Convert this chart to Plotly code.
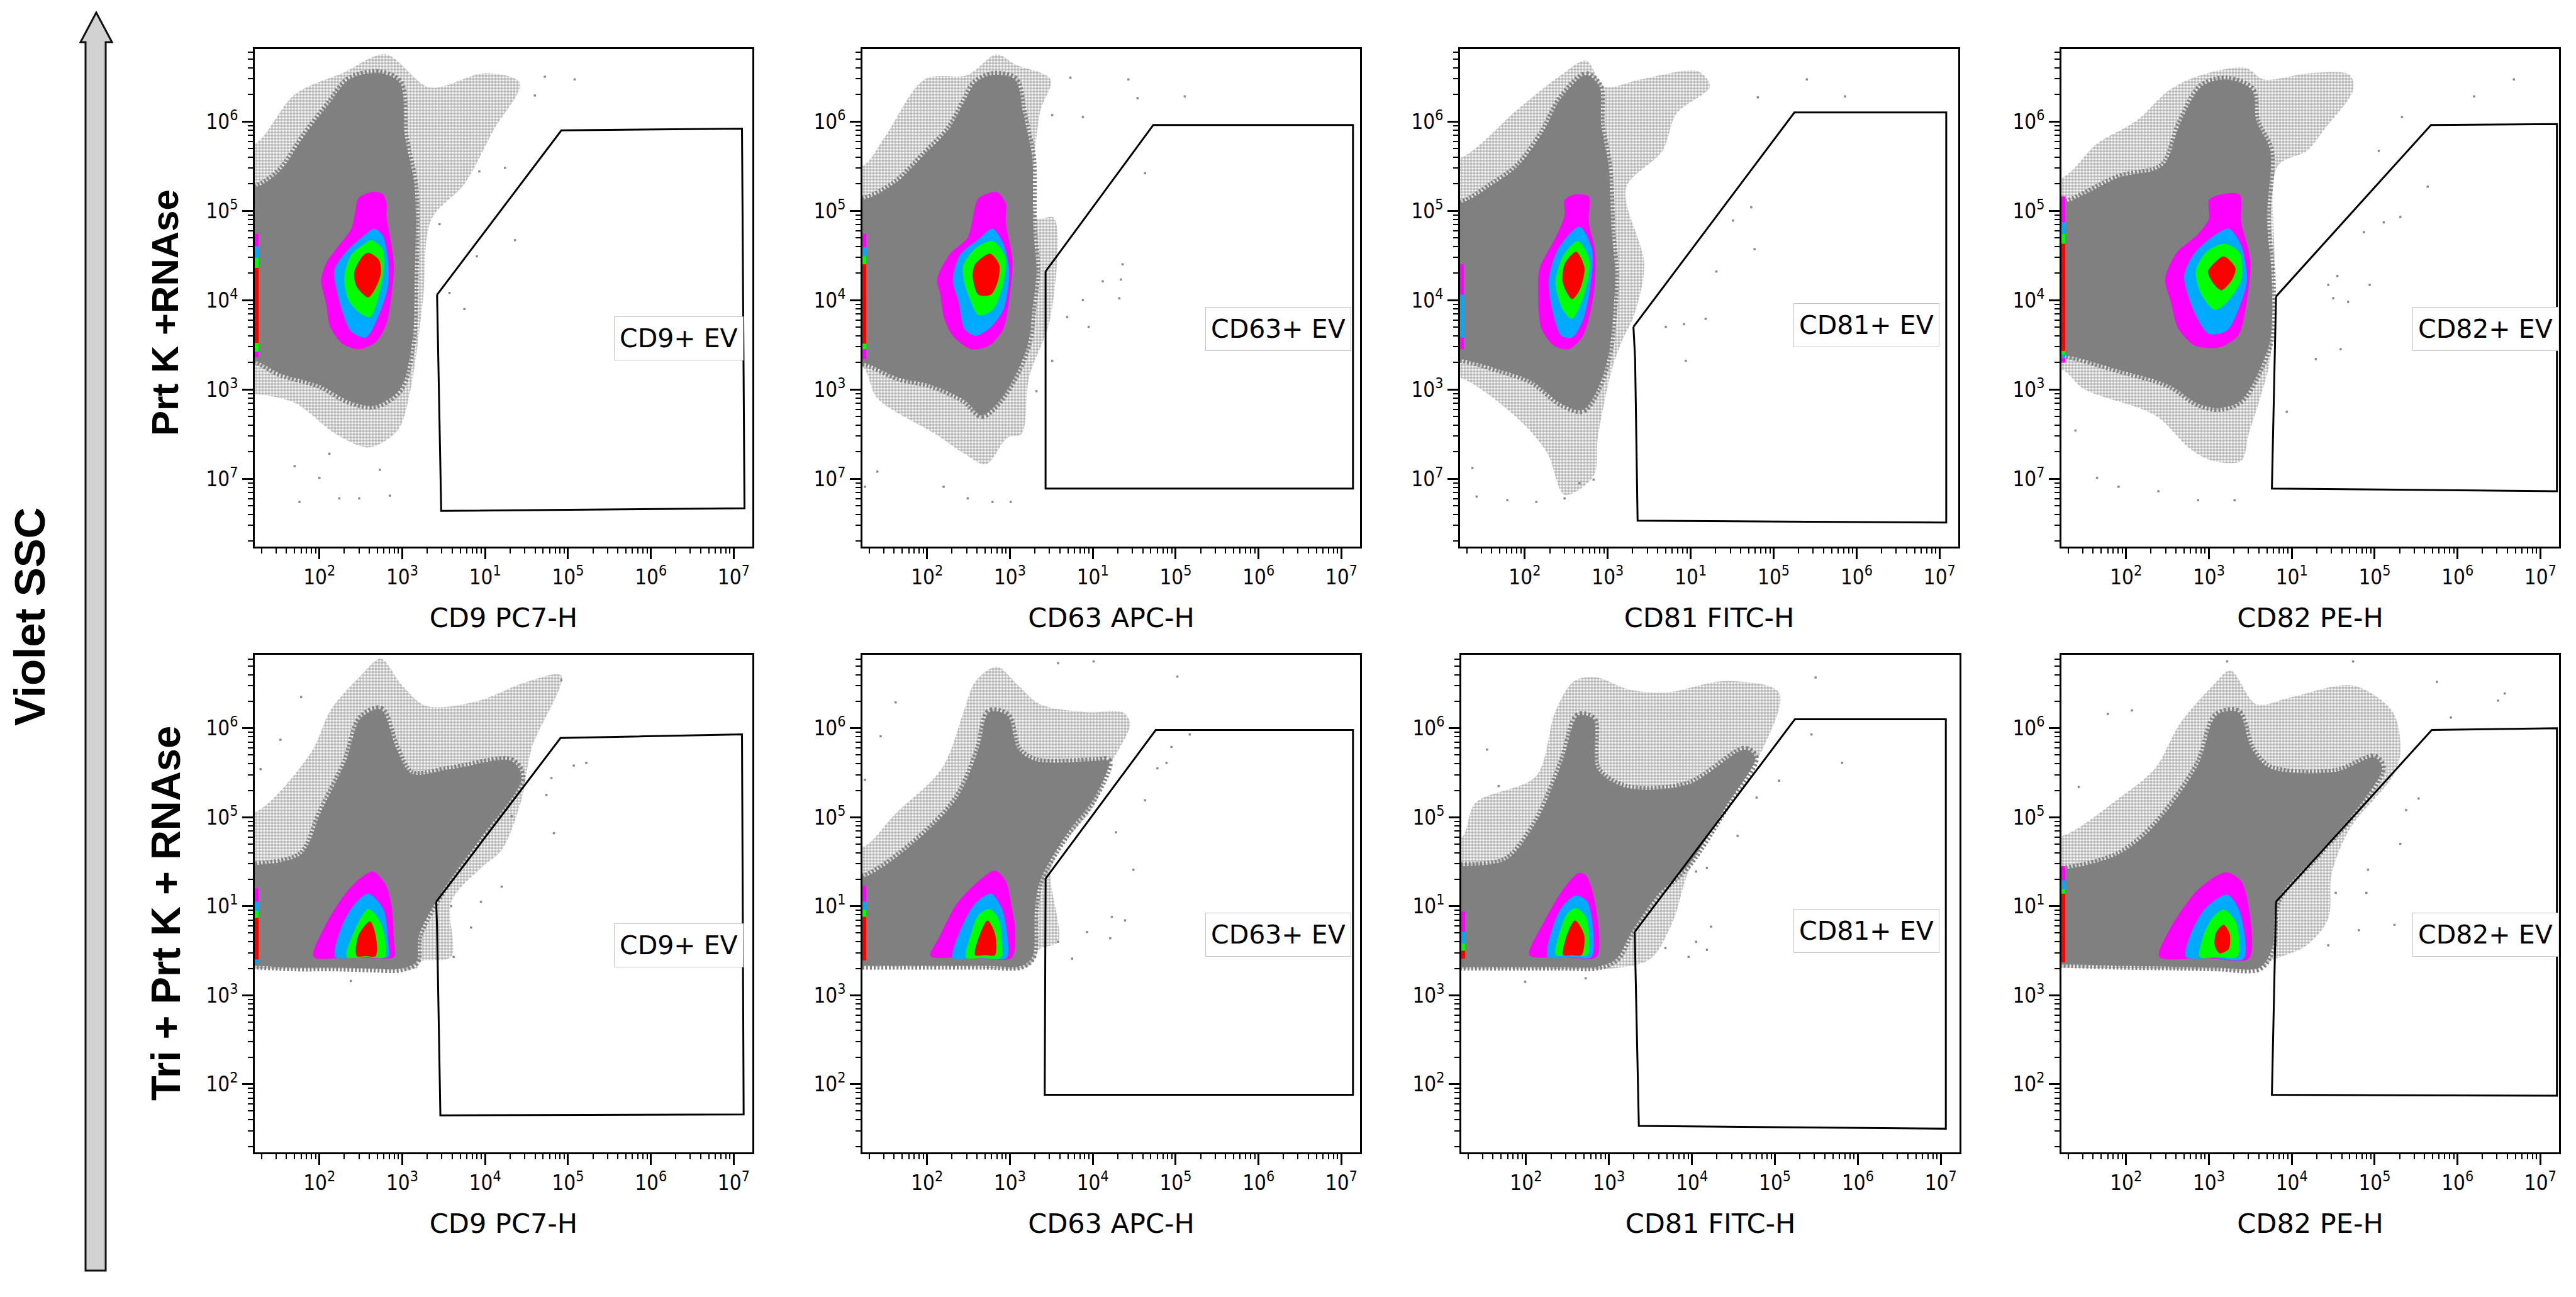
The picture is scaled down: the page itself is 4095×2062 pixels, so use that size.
import plotly.graph_objects as go

W, H = 4095, 2062

# ---- axis information ----
MAJOR_TICKS = [2, 3, 4, 5, 6, 7]
X_TICK_EXP_TOP = ["2", "3", "1", "5", "6", "7"]
X_TICK_EXP_BOTTOM = ["2", "3", "4", "5", "6", "7"]
Y_TICK_VALUES = [2, 3, 4, 5, 6]
Y_TICK_EXP_TOP = ["7", "3", "4", "5", "6"]
Y_TICK_EXP_BOTTOM = ["2", "3", "1", "5", "6"]
X_TITLES = ["CD9 PC7-H", "CD63 APC-H", "CD81 FITC-H", "CD82 PE-H"]
GATE_LABELS = ["CD9+ EV", "CD63+ EV", "CD81+ EV", "CD82+ EV"]
ROW_LABELS = ["Prt K +RNAse", "Tri + Prt K + RNAse"]

# All values below are log10 of the fluorescence (x) and of Violet SSC (y).

# ---- Prt K + RNAse, CD9 ----
A1_SPECKLE = [(1.22,5.75),(1.7,6.3),(2.3,6.55),(2.8,6.75),(3.33,6.38),(4.0,6.54),(4.42,6.43),(4.1,5.9),(3.75,5.3),(3.35,4.9),(3.25,4.0),(3.1,3.0),(2.95,2.55),(2.6,2.35),(2.2,2.5),(1.7,2.85),(1.22,2.95)]
A1_CORE = [(1.22,5.26),(1.52,5.44),(1.82,5.84),(2.12,6.2),(2.36,6.47),(2.73,6.54),(2.97,6.43),(3.03,5.84),(3.15,5.26),(3.15,4.22),(3.12,3.54),(2.97,3.0),(2.67,2.82),(2.36,2.87),(2.0,3.05),(1.52,3.18),(1.22,3.32)]
A1_MAGENTA = [(2.63,5.21),(2.76,5.19),(2.81,5.09),(2.81,4.93),(2.85,4.72),(2.9,4.38),(2.87,4.07),(2.81,3.74),(2.68,3.53),(2.48,3.45),(2.28,3.51),(2.13,3.70),(2.08,3.96),(2.02,4.22),(2.08,4.41),(2.2,4.57),(2.38,4.79),(2.43,4.98),(2.47,5.14)]
A1_BLUE = [(2.66,4.80),(2.76,4.73),(2.83,4.45),(2.83,4.17),(2.73,3.86),(2.56,3.58),(2.38,3.65),(2.28,3.86),(2.21,4.10),(2.18,4.34),(2.33,4.55),(2.51,4.70)]
A1_GREEN = [(2.63,4.67),(2.76,4.57),(2.78,4.38),(2.73,4.10),(2.61,3.81),(2.48,3.86),(2.35,4.0),(2.30,4.26),(2.38,4.50),(2.53,4.62)]
A1_RED = [(2.59,4.53),(2.72,4.45),(2.74,4.29),(2.67,4.12),(2.59,4.03),(2.45,4.15),(2.42,4.31),(2.53,4.50)]
A1_EDGE = [("m",4.74,4.60),("b",4.60,4.47),("g",4.47,4.36),("r",4.36,3.52),("g",3.52,3.42),("m",3.42,3.36)]
A1_GATE = [(3.42,4.06),(3.44,3.18),(3.47,1.64),(7.13,1.67),(7.10,5.92),(4.92,5.90)]
A1_DOTS = [(5.08,6.47),(4.72,6.50),(4.24,5.48),(4.36,4.67),(3.90,4.49),(3.57,4.08),(3.75,3.90),(3.45,4.85),(3.93,5.44),(4.60,6.29),(1.76,1.74),(2.24,1.78),(2.85,1.81),(2.48,1.78),(2.0,2.01),(2.73,2.10),(1.70,2.14),(2.12,2.28)]
A1_LABEL = (6.34,3.57)

# ---- Prt K + RNAse, CD63 ----
A2_SPECKLE = [(1.22,5.5),(1.5,5.84),(1.97,6.47),(2.49,6.52),(2.84,6.75),(3.06,6.64),(3.49,6.47),(3.36,6.09),(3.32,4.92),(3.53,4.92),(3.49,3.81),(3.23,3.13),(3.14,2.5),(2.97,2.46),(2.71,2.16),(2.45,2.28),(2.1,2.5),(1.4,2.9),(1.22,3.25)]
A2_CORE = [(1.22,5.12),(1.62,5.31),(1.97,5.63),(2.27,5.92),(2.45,6.22),(2.58,6.43),(2.79,6.52),(3.06,6.47),(3.16,6.09),(3.21,5.88),(3.27,5.59),(3.28,4.82),(3.32,4.32),(3.27,3.89),(3.23,3.56),(3.10,3.22),(2.88,2.88),(2.66,2.71),(2.45,2.88),(2.05,3.05),(1.66,3.13),(1.22,3.30)]
A2_MAGENTA = [(2.62,5.14),(2.84,5.21),(2.95,5.08),(2.95,4.87),(3.03,4.44),(3.01,4.15),(2.92,3.68),(2.75,3.49),(2.53,3.45),(2.31,3.60),(2.20,3.81),(2.16,4.06),(2.12,4.23),(2.27,4.51),(2.49,4.70),(2.55,4.91)]
A2_BLUE = [(2.79,4.80),(2.92,4.63),(2.99,4.32),(2.92,3.89),(2.75,3.68),(2.58,3.60),(2.45,3.68),(2.38,3.98),(2.31,4.23),(2.40,4.51),(2.62,4.68)]
A2_GREEN = [(2.79,4.66),(2.94,4.49),(2.92,4.19),(2.79,3.89),(2.62,3.83),(2.53,3.98),(2.44,4.23),(2.44,4.40),(2.60,4.59)]
A2_RED = [(2.76,4.52),(2.87,4.40),(2.86,4.23),(2.77,4.06),(2.62,4.06),(2.55,4.27),(2.58,4.40)]
A2_EDGE = [("m",4.74,4.59),("b",4.59,4.49),("g",4.49,4.40),("r",4.40,3.51),("g",3.51,3.45),("m",3.45,3.34)]
A2_GATE = [(3.43,4.32),(3.43,1.89),(7.14,1.89),(7.14,5.96),(4.73,5.96)]
A2_DOTS = [(3.73,6.49),(4.43,6.47),(4.54,6.26),(5.11,6.28),(3.88,6.05),(3.51,6.07),(4.63,5.42),(4.36,4.40),(4.34,4.23),(4.12,4.21),(4.32,4.02),(3.95,3.70),(3.88,4.0),(3.69,3.81),(3.51,3.32),(3.32,2.98),(2.49,1.78),(2.79,1.74),(3.01,1.74),(1.40,2.08),(1.25,1.91),(2.2,1.91)]
A2_LABEL = (6.24,3.675)

# ---- Prt K + RNAse, CD81 ----
A3_SPECKLE = [(1.22,5.59),(1.92,6.14),(2.44,6.52),(2.74,6.68),(2.96,6.39),(3.40,6.47),(4.09,6.56),(4.23,6.39),(3.83,6.09),(3.66,5.67),(3.22,5.25),(3.44,4.40),(3.31,3.81),(3.18,3.56),(3.05,3.22),(2.88,2.46),(2.83,2.03),(2.48,1.82),(2.27,2.29),(1.92,2.67),(1.22,3.13)]
A3_CORE = [(1.22,5.08),(1.61,5.29),(1.92,5.50),(2.22,5.88),(2.44,6.26),(2.74,6.52),(2.90,6.39),(2.92,5.97),(3.01,5.50),(3.05,4.74),(3.09,4.32),(3.07,3.89),(3.01,3.39),(2.88,3.01),(2.70,2.77),(2.44,2.84),(2.09,3.09),(1.70,3.22),(1.22,3.34)]
A3_MAGENTA = [(2.59,5.18),(2.77,5.16),(2.77,4.87),(2.85,4.53),(2.83,4.06),(2.70,3.60),(2.53,3.45),(2.35,3.49),(2.20,3.68),(2.16,4.06),(2.18,4.36),(2.37,4.70),(2.48,4.95),(2.48,5.12)]
A3_BLUE = [(2.66,4.82),(2.81,4.57),(2.79,4.15),(2.70,3.77),(2.57,3.58),(2.44,3.60),(2.33,3.89),(2.29,4.23),(2.40,4.57)]
A3_GREEN = [(2.64,4.66),(2.78,4.44),(2.70,4.02),(2.57,3.79),(2.46,3.89),(2.37,4.19),(2.46,4.49)]
A3_RED = [(2.62,4.54),(2.72,4.36),(2.66,4.11),(2.57,4.01),(2.46,4.19),(2.48,4.40)]
A3_EDGE = [("m",4.40,4.06),("b",4.06,3.58),("m",3.58,3.45)]
A3_GATE = [(3.31,3.70),(3.33,3.34),(3.36,1.53),(7.08,1.51),(7.08,6.10),(5.25,6.10)]
A3_DOTS = [(5.40,6.47),(5.86,6.28),(4.81,6.27),(4.73,5.04),(4.77,4.57),(4.31,4.32),(4.51,4.89),(4.18,3.79),(3.94,3.32),(3.70,3.70),(3.92,3.73),(1.42,1.80),(1.79,1.76),(2.14,1.74),(2.48,1.78),(2.66,1.95),(2.83,1.99),(1.37,2.12)]
A3_LABEL = (6.115,3.72)

# ---- Prt K + RNAse, CD82 ----
A4_SPECKLE = [(1.23,5.37),(1.65,5.75),(2.13,6.01),(2.52,6.35),(2.91,6.52),(3.44,6.60),(3.66,6.47),(4.22,6.54),(4.70,6.52),(4.74,6.35),(4.40,5.92),(4.18,5.67),(3.83,5.50),(3.79,4.40),(3.74,3.34),(3.61,2.88),(3.48,2.50),(3.39,2.20),(3.05,2.20),(2.78,2.33),(2.35,2.71),(1.48,3.01),(1.23,3.22)]
A4_CORE = [(1.23,5.08),(1.91,5.37),(2.44,5.50),(2.65,5.97),(2.91,6.39),(3.22,6.47),(3.52,6.35),(3.57,6.01),(3.74,5.67),(3.70,4.91),(3.76,4.23),(3.74,3.56),(3.61,3.22),(3.39,2.88),(3.13,2.79),(2.87,2.84),(2.52,3.05),(1.91,3.22),(1.23,3.39)]
A4_MAGENTA = [(3.13,5.18),(3.37,5.18),(3.39,4.87),(3.50,4.44),(3.44,3.89),(3.35,3.60),(3.13,3.47),(2.83,3.49),(2.63,3.68),(2.54,3.98),(2.47,4.23),(2.61,4.53),(2.87,4.74),(3.0,4.91),(3.0,5.12)]
A4_BLUE = [(3.24,4.80),(3.39,4.61),(3.46,4.23),(3.39,3.98),(3.22,3.66),(3.0,3.62),(2.83,3.85),(2.70,4.27),(2.83,4.53),(3.09,4.74)]
A4_GREEN = [(3.18,4.63),(3.37,4.53),(3.39,4.23),(3.22,3.98),(3.07,3.89),(2.91,4.06),(2.84,4.32),(2.96,4.53)]
A4_RED = [(3.18,4.49),(3.32,4.36),(3.28,4.23),(3.15,4.11),(3.05,4.19),(2.99,4.32),(3.07,4.42)]
A4_EDGE = [("m",5.16,4.87),("b",4.87,4.74),("g",4.74,4.63),("r",4.63,3.43),("g",3.43,3.39),("b",3.39,3.35),("m",3.35,3.30)]
A4_GATE = [(3.81,4.04),(3.76,1.89),(7.2,1.86),(7.2,5.97),(5.68,5.96)]
A4_DOTS = [(6.68,6.47),(6.20,6.28),(5.33,6.05),(5.05,5.67),(5.64,5.27),(5.31,4.93),(5.11,4.87),(4.87,4.76),(4.94,4.17),(4.55,4.27),(4.44,4.17),(4.50,4.02),(4.68,3.98),(4.59,3.45),(4.29,3.34),(3.94,2.75),(1.65,2.01),(1.91,1.91),(2.39,1.86),(2.87,1.76),(3.31,1.76),(1.39,2.54)]
A4_LABEL = (6.34,3.675)

# ---- Tri + Prt K + RNAse, CD9 ----
B1_SPECKLE = [(1.23,5.06),(1.90,5.73),(2.14,6.21),(2.50,6.59),(2.74,6.78),(2.99,6.49),(3.29,6.25),(3.89,6.30),(4.50,6.52),(4.92,6.59),(4.56,5.77),(4.44,5.20),(4.20,4.63),(3.95,4.43),(3.59,4.05),(3.59,3.43),(3.23,3.38),(3.17,3.30),(2.4,3.30),(1.23,3.30)]
B1_CORE = [(1.23,4.46),(1.78,4.58),(2.02,5.06),(2.32,5.63),(2.50,6.11),(2.74,6.21),(2.93,5.77),(3.11,5.49),(3.59,5.54),(4.32,5.63),(4.44,5.44),(3.95,4.77),(3.47,4.15),(3.20,3.67),(3.17,3.38),(2.99,3.30),(2.6,3.30),(2.2,3.31),(1.7,3.31),(1.23,3.33)]
B1_MAGENTA = [(2.65,4.39),(2.8,4.24),(2.87,4.0),(2.9,3.6),(2.9,3.43),(2.4,3.43),(1.93,3.43),(2.08,3.8),(2.32,4.15),(2.5,4.32)]
B1_BLUE = [(2.59,4.14),(2.77,3.97),(2.83,3.6),(2.83,3.43),(2.5,3.43),(2.19,3.43),(2.28,3.8),(2.43,4.03)]
B1_GREEN = [(2.59,3.97),(2.74,3.81),(2.79,3.43),(2.55,3.43),(2.33,3.43),(2.44,3.76)]
B1_RED = [(2.61,3.83),(2.68,3.67),(2.68,3.44),(2.56,3.44),(2.45,3.44),(2.47,3.67)]
B1_EDGE = [("m",4.20,4.05),("b",4.05,3.95),("g",3.95,3.87),("r",3.87,3.40),("b",3.40,3.36)]
B1_GATE = [(3.41,4.05),(3.42,3.76),(3.46,1.65),(7.12,1.66),(7.10,5.93),(4.91,5.89)]
B1_DOTS = [(5.22,5.61),(5.07,5.58),(4.83,4.82),(4.74,5.25),(4.20,4.22),(3.62,3.43),(3.83,3.76),(3.95,4.05),(4.32,5.01),(4.80,5.44),(1.78,6.35),(1.29,5.54),(1.53,5.87),(2.38,3.16),(3.59,4.0),(4.92,6.54)]
B1_LABEL = (6.335,3.56)

# ---- Tri + Prt K + RNAse, CD63 ----
B2_SPECKLE = [(1.22,4.66),(1.62,5.04),(2.18,5.55),(2.44,6.18),(2.58,6.52),(2.84,6.69),(3.10,6.48),(3.36,6.27),(3.93,6.18),(4.36,6.18),(4.45,6.05),(4.19,5.55),(4.01,5.12),(3.58,4.62),(3.49,4.36),(3.58,3.60),(3.36,3.52),(3.23,3.33),(2.4,3.32),(1.22,3.32)]
B2_CORE = [(1.22,4.32),(1.83,4.70),(2.36,5.21),(2.62,5.76),(2.75,6.18),(2.97,6.14),(3.10,5.76),(3.32,5.63),(4.01,5.63),(4.19,5.63),(4.01,5.21),(3.67,4.79),(3.36,4.28),(3.30,3.94),(3.27,3.43),(3.14,3.33),(2.7,3.33),(2.2,3.33),(1.7,3.33),(1.22,3.33)]
B2_MAGENTA = [(2.82,4.40),(2.95,4.28),(3.03,3.94),(3.06,3.77),(3.02,3.42),(2.5,3.43),(2.04,3.44),(2.14,3.64),(2.36,4.03),(2.62,4.28)]
B2_BLUE = [(2.77,4.14),(2.90,3.98),(2.96,3.73),(2.96,3.42),(2.6,3.42),(2.31,3.42),(2.40,3.73),(2.58,4.03)]
B2_GREEN = [(2.75,3.97),(2.86,3.86),(2.90,3.60),(2.89,3.42),(2.65,3.42),(2.47,3.42),(2.53,3.69),(2.62,3.90)]
B2_RED = [(2.73,3.84),(2.82,3.69),(2.82,3.45),(2.7,3.45),(2.58,3.45),(2.64,3.69)]
B2_EDGE = [("m",4.23,4.05),("b",4.05,3.96),("g",3.96,3.88),("r",3.88,3.39)]
B2_GATE = [(3.43,4.31),(3.42,1.88),(7.14,1.88),(7.14,5.98),(4.76,5.98)]
B2_DOTS = [(5.17,5.93),(4.95,5.79),(4.89,5.61),(4.78,5.55),(5.02,6.58),(4.63,5.19),(4.28,4.83),(4.49,4.41),(4.23,3.88),(4.39,3.84),(3.93,3.71),(4.21,3.64),(3.75,3.41),(3.58,3.60),(1.44,5.91),(1.62,6.29),(1.25,5.42),(3.58,6.73),(4.01,6.75)]
B2_LABEL = (6.24,3.68)

# ---- Tri + Prt K + RNAse, CD81 ----
B3_SPECKLE = [(1.22,4.77),(1.39,5.16),(2.12,5.46),(2.35,6.18),(2.58,6.53),(2.86,6.57),(3.22,6.44),(3.68,6.40),(4.41,6.53),(5.05,6.40),(4.87,5.80),(4.41,5.12),(3.96,4.39),(3.77,3.83),(3.5,3.41),(3.04,3.30),(2.2,3.30),(1.22,3.30)]
B3_CORE = [(1.22,4.45),(1.76,4.52),(2.12,4.94),(2.44,5.63),(2.63,6.14),(2.81,6.10),(2.86,5.54),(3.22,5.33),(3.96,5.37),(4.64,5.76),(4.76,5.67),(4.41,5.12),(3.96,4.47),(3.59,4.13),(3.27,3.71),(3.09,3.41),(2.86,3.32),(2.4,3.32),(1.9,3.32),(1.22,3.32)]
B3_MAGENTA = [(2.63,4.37),(2.72,4.35),(2.83,4.05),(2.85,3.43),(2.45,3.43),(2.04,3.45),(2.22,3.83),(2.44,4.18)]
B3_BLUE = [(2.60,4.12),(2.74,4.05),(2.79,3.43),(2.5,3.43),(2.26,3.43),(2.33,3.79),(2.44,4.0)]
B3_GREEN = [(2.60,3.98),(2.72,3.88),(2.74,3.45),(2.55,3.45),(2.36,3.45),(2.42,3.75),(2.50,3.92)]
B3_RED = [(2.59,3.84),(2.70,3.68),(2.67,3.45),(2.56,3.45),(2.45,3.45),(2.48,3.64)]
B3_EDGE = [("m",3.94,3.71),("b",3.71,3.58),("g",3.58,3.50),("r",3.50,3.41)]
B3_GATE = [(3.31,3.71),(3.32,3.28),(3.36,1.53),(7.06,1.50),(7.06,6.10),(5.24,6.10)]
B3_DOTS = [(5.81,5.61),(5.44,5.93),(5.49,6.57),(5.05,5.41),(4.78,5.22),(4.55,4.79),(4.18,4.43),(4.05,4.39),(4.23,3.77),(4.18,3.51),(3.96,3.43),(3.68,3.53),(4.05,3.60),(1.53,5.76),(1.67,5.35),(1.99,3.15),(2.72,3.19)]
B3_LABEL = (6.10,3.725)

# ---- Tri + Prt K + RNAse, CD82 ----
B4_SPECKLE = [(1.23,4.79),(1.91,5.21),(2.35,5.55),(2.65,6.05),(3.05,6.48),(3.26,6.65),(3.57,6.27),(4.0,6.35),(4.74,6.48),(5.22,6.18),(5.31,5.72),(5.22,5.46),(4.70,4.87),(4.48,4.36),(4.44,3.86),(4.18,3.56),(3.76,3.39),(3.61,3.30),(2.4,3.30),(1.23,3.31)]
B4_CORE = [(1.23,4.41),(1.91,4.58),(2.35,4.91),(2.87,5.59),(3.09,6.14),(3.35,6.18),(3.52,5.76),(3.74,5.55),(4.53,5.51),(5.0,5.67),(5.09,5.55),(4.74,5.04),(4.26,4.53),(3.83,4.07),(3.76,3.52),(3.61,3.31),(3.1,3.31),(2.6,3.32),(1.9,3.33),(1.23,3.35)]
B4_MAGENTA = [(3.22,4.38),(3.39,4.28),(3.50,3.86),(3.48,3.41),(2.95,3.42),(2.40,3.43),(2.52,3.73),(2.83,4.15),(3.05,4.32)]
B4_BLUE = [(3.22,4.13),(3.37,3.94),(3.42,3.41),(3.05,3.42),(2.72,3.43),(2.78,3.69),(2.96,3.98)]
B4_GREEN = [(3.18,3.96),(3.33,3.81),(3.34,3.43),(3.1,3.43),(2.89,3.43),(2.94,3.69),(3.05,3.88)]
B4_RED = [(3.18,3.79),(3.25,3.69),(3.24,3.52),(3.13,3.47),(3.07,3.56),(3.09,3.71)]
B4_EDGE = [("m",4.45,4.29),("b",4.29,4.19),("g",4.19,4.14),("r",4.14,3.37)]
B4_GATE = [(3.81,4.05),(3.76,1.88),(7.2,1.87),(7.2,6.0),(5.69,5.98)]
B4_DOTS = [(6.57,6.39),(6.49,6.31),(5.92,6.12),(5.75,6.52),(5.53,5.21),(5.38,5.08),(5.31,4.70),(4.92,4.41),(4.90,4.15),(5.24,3.79),(4.81,3.73),(4.44,3.56),(4.53,4.15),(1.78,6.16),(1.43,5.34),(2.07,6.20),(3.22,6.75),(4.74,6.75)]
B4_LABEL = (6.34,3.68)

PANELS = [
    (A1_SPECKLE,A1_CORE,A1_MAGENTA,A1_BLUE,A1_GREEN,A1_RED,A1_EDGE,A1_GATE,A1_DOTS,A1_LABEL),
    (A2_SPECKLE,A2_CORE,A2_MAGENTA,A2_BLUE,A2_GREEN,A2_RED,A2_EDGE,A2_GATE,A2_DOTS,A2_LABEL),
    (A3_SPECKLE,A3_CORE,A3_MAGENTA,A3_BLUE,A3_GREEN,A3_RED,A3_EDGE,A3_GATE,A3_DOTS,A3_LABEL),
    (A4_SPECKLE,A4_CORE,A4_MAGENTA,A4_BLUE,A4_GREEN,A4_RED,A4_EDGE,A4_GATE,A4_DOTS,A4_LABEL),
    (B1_SPECKLE,B1_CORE,B1_MAGENTA,B1_BLUE,B1_GREEN,B1_RED,B1_EDGE,B1_GATE,B1_DOTS,B1_LABEL),
    (B2_SPECKLE,B2_CORE,B2_MAGENTA,B2_BLUE,B2_GREEN,B2_RED,B2_EDGE,B2_GATE,B2_DOTS,B2_LABEL),
    (B3_SPECKLE,B3_CORE,B3_MAGENTA,B3_BLUE,B3_GREEN,B3_RED,B3_EDGE,B3_GATE,B3_DOTS,B3_LABEL),
    (B4_SPECKLE,B4_CORE,B4_MAGENTA,B4_BLUE,B4_GREEN,B4_RED,B4_EDGE,B4_GATE,B4_DOTS,B4_LABEL),
]

# ---- layout of the panels (pixels of the page) ----
COL_X = [[(405, 1196), (1371, 2162), (2321, 3113), (3277, 4068)],
         [(405, 1196), (1371, 2162), (2323, 3115), (3277, 4068)]]
ROW_Y = [(78, 869), (1041, 1832)]
X_RANGE = [1.22, 7.225]
Y_RANGES = [[1.24, 6.81], [1.234, 6.825]]
OFF_LEFT = 0.8  # clouds run on past the left axis and are clipped there

GREY = "#808080"
COLORS = {"m": "#ff00ff", "b": "#00aaff", "g": "#00ff00", "r": "#ff0000"}
EDGE_WIDTH = 0.045
TICK_FONT = dict(family="Liberation Sans Narrow, DejaVu Sans Condensed, Liberation Sans", size=33, color="black")
LABEL_FONT = dict(family="DejaVu Sans", size=41, color="black")
BOLD_FONT = "Liberation Sans"


def exp_ticks(exps):
    return [f"10<sup>{e}</sup>" for e in exps]


def polygon(pts, xa, ya, color, smooth=0.9):
    closed = pts + pts[:1]
    line = dict(width=0, color=color)
    if smooth:
        line.update(shape="spline", smoothing=smooth)
    return go.Scatter(x=[10 ** p[0] for p in closed], y=[10 ** p[1] for p in closed],
                      xaxis=xa, yaxis=ya, mode="lines", line=line,
                      fill="toself", fillcolor=color, hoverinfo="skip")


def past_left(pts):
    return [(OFF_LEFT, pts[0][1])] + pts + [(OFF_LEFT, pts[-1][1])]


fig = go.Figure()
layout = {}
for i, panel in enumerate(PANELS):
    n = i + 1
    row, col = i // 4, i % 4
    xa, ya = f"x{n}", f"y{n}"
    speckle, core, mag, blue, green, red, edge, gate, dots, label = panel

    s = polygon(past_left(speckle), xa, ya, GREY)
    s.fillcolor = None
    s.fillpattern = dict(shape=".", size=5, solidity=0.7, fgcolor="#767676", bgcolor="white")
    fig.add_trace(s)
    # speckled, half-dense rim around the solid cloud
    rim = polygon(past_left(core), xa, ya, GREY)
    rim.fill = "none"
    rim.line.width = 12
    rim.line.dash = "3px,3px"
    fig.add_trace(rim)
    fig.add_trace(polygon(past_left(core), xa, ya, GREY))
    for pts, key in ((mag, "m"), (blue, "b"), (green, "g"), (red, "r")):
        fig.add_trace(polygon(pts, xa, ya, COLORS[key], smooth=0.8))
    for key, top, bottom in edge:
        left = X_RANGE[0]
        fig.add_trace(polygon([(left, top), (left + EDGE_WIDTH, top), (left + EDGE_WIDTH, bottom), (left, bottom)],
                              xa, ya, COLORS[key], smooth=0))
    fig.add_trace(go.Scatter(x=[10 ** p[0] for p in dots], y=[10 ** p[1] for p in dots], xaxis=xa, yaxis=ya,
                             mode="markers", marker=dict(size=3.5, color="#8a8a8a", symbol="square"), hoverinfo="skip"))
    closed = gate + gate[:1]
    fig.add_trace(go.Scatter(x=[10 ** p[0] for p in closed], y=[10 ** p[1] for p in closed], xaxis=xa, yaxis=ya,
                             mode="lines", line=dict(color="black", width=3), hoverinfo="skip"))

    x0, x1 = COL_X[row][col]
    y0, y1 = ROW_Y[row]
    common = dict(type="log", showgrid=False, zeroline=False, showline=True, linecolor="black", linewidth=3,
                  mirror=True, ticks="outside", ticklen=17, tickwidth=3, tickcolor="black", tickfont=TICK_FONT,
                  tickmode="array",
                  minor=dict(ticks="outside", ticklen=8, tickwidth=2, tickcolor="black", dtick="D1", showgrid=False))
    layout[f"xaxis{n}"] = dict(common, domain=[x0 / W, x1 / W], range=X_RANGE, anchor=ya,
                               tickvals=[10 ** v for v in MAJOR_TICKS],
                               ticktext=exp_ticks(X_TICK_EXP_TOP if row == 0 else X_TICK_EXP_BOTTOM),
                               title=dict(text=X_TITLES[col], font=dict(family="DejaVu Sans", size=43, color="black"), standoff=32))
    layout[f"yaxis{n}"] = dict(common, domain=[1 - y1 / H, 1 - y0 / H], range=Y_RANGES[row], anchor=xa,
                               tickvals=[10 ** v for v in Y_TICK_VALUES],
                               ticktext=exp_ticks(Y_TICK_EXP_TOP if row == 0 else Y_TICK_EXP_BOTTOM))
    layout.setdefault("annotations", []).append(dict(
        x=label[0], y=label[1], xref=xa, yref=ya, text=GATE_LABELS[col], showarrow=False, font=LABEL_FONT,
        bgcolor="white", bordercolor="#c4c4c4", borderwidth=1, borderpad=8, height=52))

for text, yc, size in ((ROW_LABELS[0], 497, 60), (ROW_LABELS[1], 1452, 65)):
    layout["annotations"].append(dict(x=263 / W, y=1 - yc / H, xref="paper", yref="paper", text=f"<b>{text}</b>",
                                      xanchor="center", yanchor="middle",
                                      textangle=-90, showarrow=False, font=dict(family=BOLD_FONT, size=size, color="black")))
layout["annotations"].append(dict(x=47 / W, y=1 - 980 / H, xref="paper", yref="paper", text="<b>Violet SSC</b>",
                                  xanchor="center", yanchor="middle",
                                  textangle=-90, showarrow=False, font=dict(family=BOLD_FONT, size=69, color="black")))

# the big arrow along the left side of the figure
ARROW_PX = [(136, 2020), (136, 67), (128, 67), (153, 20), (178, 67), (168, 67), (168, 2020)]
path = "M " + " L ".join(f"{x / W:.5f},{1 - y / H:.5f}" for x, y in ARROW_PX) + " Z"
layout["shapes"] = [dict(type="path", xref="paper", yref="paper", path=path, fillcolor="#d2d2d2",
                         line=dict(color="#111111", width=3))]

fig.update_layout(width=W, height=H, margin=dict(l=0, r=0, t=0, b=0), paper_bgcolor="white", plot_bgcolor="white",
                  showlegend=False, **layout)
fig.write_html("out.html", post_script="document.body.style.margin='0';", config={"displayModeBar": False})
